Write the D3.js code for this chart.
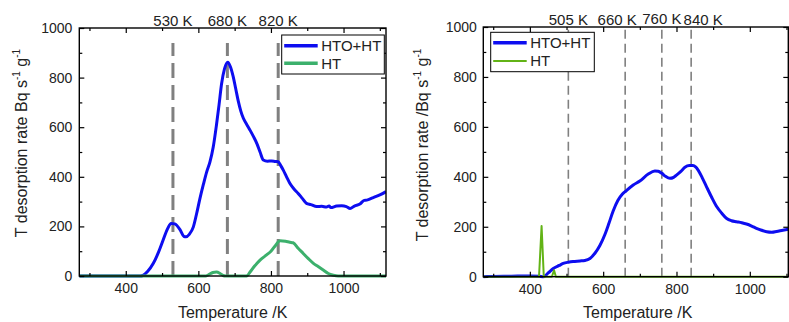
<!DOCTYPE html>
<html><head><meta charset="utf-8">
<script src="https://cdn.jsdelivr.net/npm/d3@7"></script>
<style>
html,body{margin:0;padding:0;background:#fff;}
svg{display:block;font-family:"Liberation Sans",Arial,sans-serif;}
</style></head>
<body><svg id="c" width="789" height="322"></svg>
<script>
// ---------- data ----------
const leftHTO = [[272,0],[300,0],[350,0],[400,0],[440,0],[447,2],[460,18],[476,51],[490,95],[503,145],[515,190],[525,212],[535,210],[549,188],[560,160],[566,158],[575,168],[586,197],[595,250],[604,310],[614,370],[623,420],[632,460],[641,520],[650,610],[657,690],[664,775],[672,835],[681,862],[688,845],[696,804],[703,755],[710,705],[717,665],[724,636],[733,612],[742,589],[752,562],[761,535],[770,500],[779,468],[790,463],[802,464],[812,462],[820,461],[827,445],[834,427],[843,400],[852,374],[863,352],[875,333],[887,312],[898,293],[910,288],[926,280],[940,281],[953,278],[960,282],[965,276],[981,282],[995,283],[1008,280],[1018,272],[1030,282],[1045,290],[1057,305],[1064,306],[1080,315],[1100,327],[1117,340]];
const leftHT = [[272,0],[620,0],[628,5],[640,14],[650,16],[660,10],[668,2],[675,0],[733,0],[742,15],[755,40],[770,64],[788,85],[800,100],[812,122],[825,142],[840,140],[852,136],[861,134],[875,112],[889,91],[903,70],[917,51],[930,38],[944,24],[958,10],[972,3],[985,0],[1117,0]];
const rightHTO = [[273,0],[300,1],[350,2],[400,3],[425,2],[437,0],[450,15],[464,33],[480,45],[491,53],[505,58],[518,61],[537,63],[550,65],[564,73],[578,95],[591,125],[605,170],[616,215],[627,262],[640,305],[652,330],[662,343],[682,367],[700,383],[723,411],[741,423],[750,422],[760,414],[770,402],[782,394],[792,398],[800,407],[812,422],[823,438],[835,445],[845,445],[852,440],[859,427],[870,397],[882,360],[896,318],[910,280],[923,255],[937,233],[950,224],[964,220],[978,216],[991,211],[1005,203],[1018,194],[1032,186],[1046,180],[1060,178],[1073,181],[1090,186],[1105,190]];
const rightHT = [[273,0],[425,0],[432,203],[438,0],[460,0],[466,26],[471,0],[1105,0]];
const leftPeaks = [530, 680, 820];
const rightPeaks = [505, 660, 760, 840];
const xMajor = [400, 600, 800, 1000];
const xMinor = [300, 500, 700, 900, 1100];
const yMajor = [0, 200, 400, 600, 800, 1000];
const yMinor = [100, 300, 500, 700, 900];
const seriesNames = ["HTO+HT", "HT"];

// ---------- drawing ----------
const svg = d3.select("#c");
const FONT = "Liberation Sans, Arial, sans-serif";

function panel(cfg) {
  const g = svg.append("g");
  const x = d3.scaleLinear().domain(cfg.xDomain).range(cfg.xRange);
  const y = d3.scaleLinear().domain([0, 1000]).range(cfg.yRange);
  const [x0, x1] = cfg.xRange, [y0, y1] = cfg.yRange;

  const clipId = "clip" + cfg.id;
  svg.append("clipPath").attr("id", clipId).append("rect")
    .attr("x", x0).attr("y", y1 - 2).attr("width", x1 - x0).attr("height", y0 - y1 + 4);

  // dashed peak lines
  const dl = g.append("g");
  cfg.peaks.forEach(p => {
    dl.append("line")
      .attr("x1", x(p)).attr("x2", x(p))
      .attr("y1", y(0)).attr("y2", y(cfg.dashTop))
      .attr("stroke", "#808080").attr("stroke-width", cfg.dashW)
      .attr("stroke-dasharray", cfg.dash);
  });

  // curves
  const line = d3.line().x(d => x(d[0])).y(d => y(d[1])).curve(d3.curveMonotoneX);
  const cg = g.append("g").attr("clip-path", `url(#${clipId})`);
  cg.append("path").datum(cfg.hto).attr("d", line)
    .attr("fill", "none").attr("stroke", "#0d0df0").attr("stroke-width", 3).attr("stroke-linejoin", "round");
  cg.append("path").datum(cfg.ht).attr("d", d3.line().x(d => x(d[0])).y(d => y(d[1])).curve(cfg.htCurve))
    .attr("fill", "none").attr("stroke", cfg.htColor).attr("stroke-width", cfg.htW).attr("stroke-linejoin", "round");

  // axes (inward ticks)
  function style(a) {
    a.select(".domain").remove();
    a.selectAll("line").attr("stroke", "#000").attr("stroke-width", 1.2);
    a.selectAll("text").attr("font-family", FONT).attr("font-size", 14).attr("fill", "#222");
  }
  const ax = g.append("g").attr("transform", `translate(0,${y0})`);
  ax.call(d3.axisBottom(x).tickValues(xMajor).tickSize(-5).tickPadding(7.5).tickFormat(d3.format("d"))).call(style);
  g.append("g").attr("transform", `translate(0,${y0})`)
    .call(d3.axisBottom(x).tickValues(xMinor).tickSize(-3).tickFormat("")).call(style);
  g.append("g").attr("transform", `translate(0,${y1})`)
    .call(d3.axisTop(x).tickValues(xMajor).tickSize(-5).tickFormat("")).call(style);
  g.append("g").attr("transform", `translate(0,${y1})`)
    .call(d3.axisTop(x).tickValues(xMinor).tickSize(-3).tickFormat("")).call(style);
  g.append("g").attr("transform", `translate(${x0},0)`)
    .call(d3.axisLeft(y).tickValues(yMajor).tickSize(-5).tickPadding(cfg.yPad).tickFormat(d3.format("d"))).call(style);
  g.append("g").attr("transform", `translate(${x0},0)`)
    .call(d3.axisLeft(y).tickValues(yMinor).tickSize(-3).tickFormat("")).call(style);
  g.append("g").attr("transform", `translate(${x1},0)`)
    .call(d3.axisRight(y).tickValues(yMajor).tickSize(-5).tickFormat("")).call(style);
  g.append("g").attr("transform", `translate(${x1},0)`)
    .call(d3.axisRight(y).tickValues(yMinor).tickSize(-3).tickFormat("")).call(style);

  // frame
  g.append("rect").attr("x", x0).attr("y", y1).attr("width", x1 - x0).attr("height", y0 - y1)
    .attr("fill", "none").attr("stroke", "#000").attr("stroke-width", 1.4);

  // peak labels
  cfg.peaks.forEach((p, i) => {
    g.append("text").attr("x", x(p) + cfg.labelDx[i]).attr("y", cfg.labelY[i])
      .attr("text-anchor", "middle").attr("font-family", FONT).attr("font-size", 15).attr("fill", "#222")
      .text(p + " K");
  });

  // axis titles
  g.append("text").attr("x", (x0 + x1) / 2 + cfg.xtDx).attr("y", 318)
    .attr("text-anchor", "middle").attr("font-family", FONT).attr("font-size", 16).attr("fill", "#222")
    .text("Temperature /K");
  const yt = g.append("text").attr("transform", `translate(${cfg.ytX},${cfg.ytY}) rotate(-90)`)
    .attr("text-anchor", "middle").attr("font-family", FONT).attr("font-size", 16).attr("fill", "#222");
  yt.append("tspan").text(cfg.yTitle);
  yt.append("tspan").attr("font-size", 10).attr("dy", -7).text("-1");
  yt.append("tspan").attr("dy", 7).text(" g");
  yt.append("tspan").attr("font-size", 10).attr("dy", -7).text("-1");

  // legend
  const L = cfg.legend;
  const lg = g.append("g");
  lg.append("rect").attr("x", L.x).attr("y", L.y).attr("width", L.w).attr("height", L.h)
    .attr("fill", "#fff").attr("stroke", "#000").attr("stroke-width", 1);
  const cols = ["#0d0df0", cfg.htColor], ws = [3.5, cfg.legHtW];
  seriesNames.forEach((n, i) => {
    const ly = L.y + L.row0 + i * L.rowH;
    lg.append("line").attr("x1", L.x + 2.5).attr("x2", L.x + 36).attr("y1", ly).attr("y2", ly)
      .attr("stroke", cols[i]).attr("stroke-width", ws[i]);
    lg.append("text").attr("x", L.x + 39.5).attr("y", ly + 5.2)
      .attr("font-family", FONT).attr("font-size", 15).attr("fill", "#222").text(n);
  });
}

panel({
  id: "L", xDomain: [272, 1117], xRange: [79.3, 386], yRange: [276, 28],
  hto: leftHTO, ht: leftHT, htColor: "#3cb06c", htW: 3, legHtW: 3.5, htCurve: d3.curveMonotoneX,
  peaks: leftPeaks, dash: "15,7", dashW: 3, dashTop: 940,
  labelDx: [0, 0, 0], labelY: [26, 26, 26],
  yPad: 7, xtDx: 0, ytX: 27, ytY: 143, yTitle: "T desorption rate Bq s",
  legend: { x: 281.7, y: 35, w: 102.6, h: 39, row0: 10.7, rowH: 17.6 }
});
panel({
  id: "R", xDomain: [273, 1105], xRange: [483.3, 788.3], yRange: [276.7, 27],
  hto: rightHTO, ht: rightHT, htColor: "#62b316", htW: 2, legHtW: 2, htCurve: d3.curveLinear,
  peaks: rightPeaks, dash: "9,5", dashW: 1.6, dashTop: 1000,
  labelDx: [0, -8, 0, 12], labelY: [25, 25, 23.5, 25],
  yPad: 6.5, xtDx: 2, ytX: 428, ytY: 145, yTitle: "T desorption rate /Bq s",
  legend: { x: 490.7, y: 32.3, w: 103.6, h: 39.4, row0: 10.4, rowH: 18.3 }
});
</script></body></html>
